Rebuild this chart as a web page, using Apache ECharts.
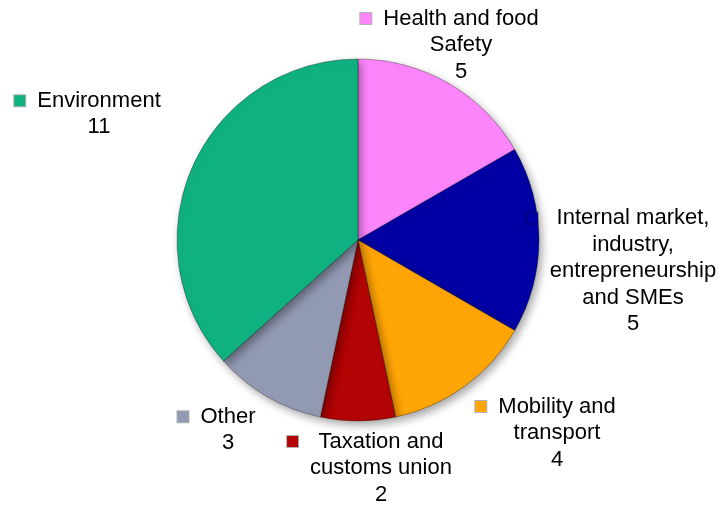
<!DOCTYPE html>
<html>
<head>
<meta charset="utf-8">
<script src="https://cdn.jsdelivr.net/npm/echarts@6/dist/echarts.min.js"></script>
<style>
  html, body { margin: 0; padding: 0; background: #fff; }
  #chart { width: 720px; height: 508px; }
</style>
</head>
<body>
<div id="chart"></div>
<script>
// categories, split into label lines as on the picture
var categories = [
    ['Health and food', 'Safety'],
    ['Internal market,', 'industry,', 'entrepreneurship', 'and SMEs'],
    ['Mobility and', 'transport'],
    ['Taxation and', 'customs union'],
    ['Other'],
    ['Environment']
];
var values = [5, 5, 4, 2, 3, 11];
var colors = ['#fd86fd', '#0000a4', '#ffa506', '#b20404', '#9299b3', '#10b180'];

// where each label block sits (centre of the text)
var labelPos = [[461, 45], [633, 271], [557, 433], [381, 468], [228, 430], [99, 114]];

var dom = document.getElementById('chart');
var myChart = echarts.init(dom);

var pieData = [];
for (var i = 0; i < values.length; i++) {
    pieData.push({
        name: categories[i].join(' '),
        value: values[i],
        itemStyle: {color: colors[i]}
    });
}

function makeLabel(params) {
    var lines = categories[params.dataIndex];
    var key = 'ic' + params.dataIndex;
    var out = [];
    out.push('{' + key + '|}{g|}{t|' + lines[0] + '}{sr|}');
    for (var k = 1; k < lines.length; k++) {
        out.push('{sl|}{t|' + lines[k] + '}{sr|}');
    }
    out.push('{sl|}{t|' + params.value + '}{sr|}');
    return out.join('\n');
}

var LH = 26.5;
var rich = {
    t: {fontFamily: 'Liberation Sans', fontSize: 22, color: '#000', lineHeight: LH, align: 'center'},
    g: {width: 12, height: 11, align: 'left', lineHeight: LH},
    sl: {width: 23, height: 11, align: 'left', lineHeight: LH},
    sr: {width: 23, height: 11, align: 'right', lineHeight: LH}
};
for (var j = 0; j < colors.length; j++) {
    rich['ic' + j] = {
        width: 11, height: 11, align: 'left', lineHeight: LH,
        backgroundColor: colors[j],
        borderColor: 'rgba(0,0,0,0.3)', borderWidth: 1
    };
}

var option = {
    animation: false,
    backgroundColor: '#fff',
    series: [
        {
            type: 'pie',
            center: [358, 240],
            radius: [0, 181],
            startAngle: 90,
            clockwise: true,
            data: pieData,
            itemStyle: {
                borderColor: 'rgba(0,0,0,0.4)',
                borderWidth: 0.8,
                shadowColor: 'rgba(0,0,0,0.35)',
                shadowBlur: 8,
                shadowOffsetX: 3,
                shadowOffsetY: 4
            },
            label: {
                show: true,
                position: 'inside',
                rotate: 0,
                formatter: makeLabel,
                rich: rich
            },
            labelLine: {show: false},
            labelLayout: function (params) {
                var p = labelPos[params.dataIndex];
                return {x: p[0], y: p[1], align: 'center', verticalAlign: 'middle'};
            },
            emphasis: {disabled: true}
        }
    ]
};

myChart.setOption(option, true);
</script>
</body>
</html>
